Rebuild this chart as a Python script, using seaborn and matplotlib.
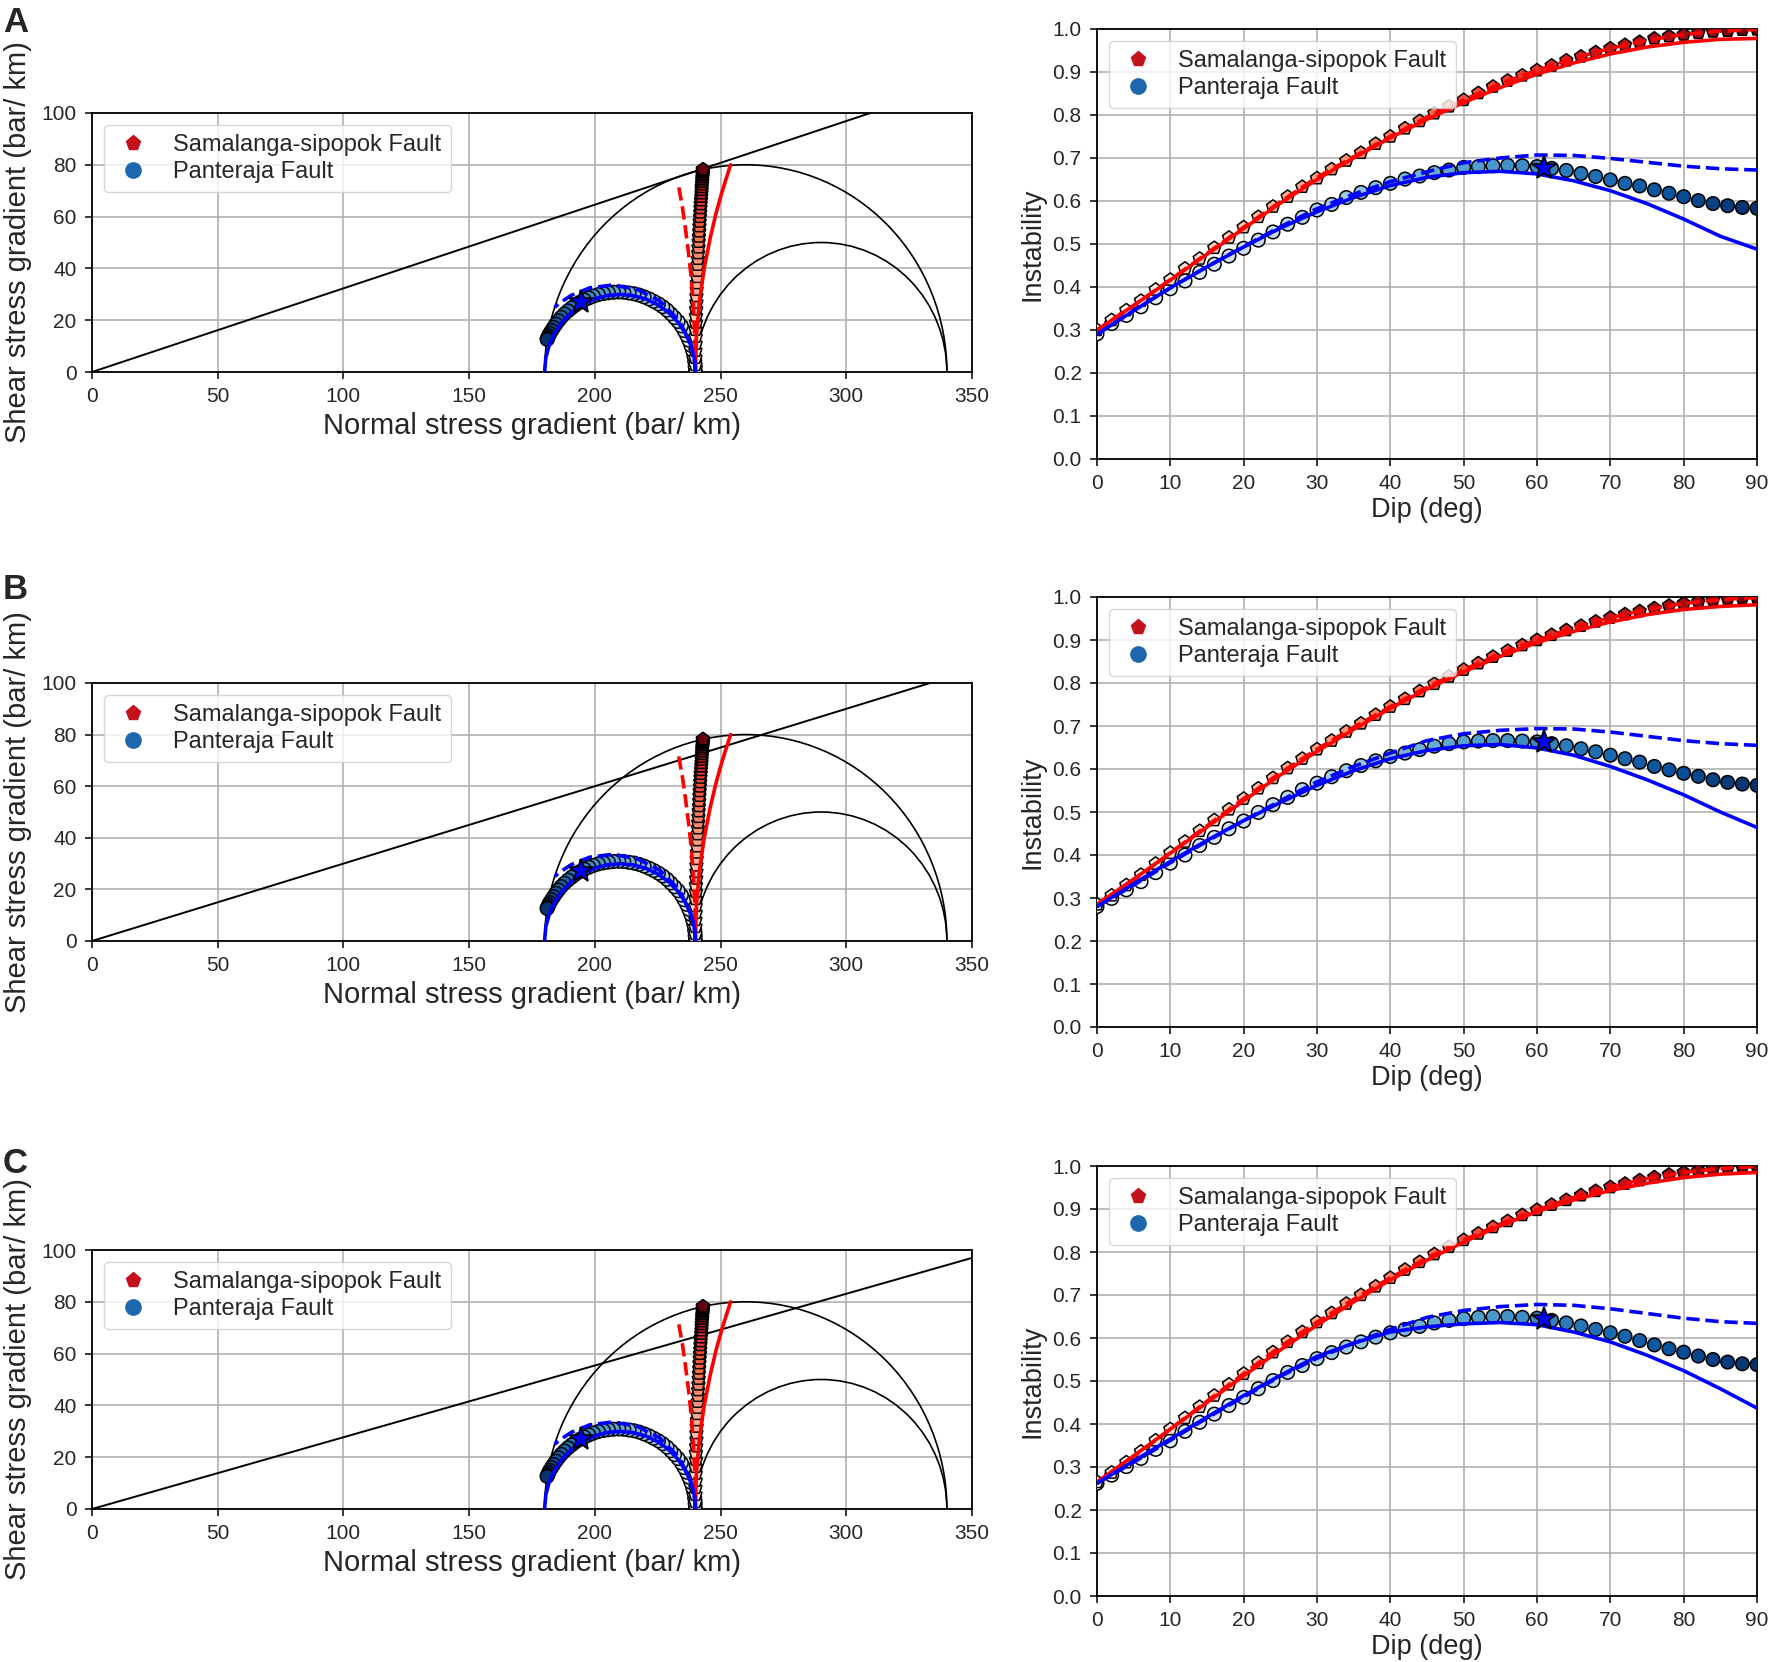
import numpy as np
import matplotlib
matplotlib.use("Agg")
import matplotlib.pyplot as plt
from matplotlib.patches import Arc
from matplotlib.lines import Line2D
import seaborn as sns

sns.set_style("ticks")
plt.rcParams['font.family'] = ['Liberation Sans', 'DejaVu Sans']

# dip angles of the marker series (deg) and of the curves
dip = [0, 2, 4, 6, 8, 10, 12, 14, 16, 18, 20, 22, 24, 26, 28, 30, 32, 34, 36, 38, 40, 42, 44,
       46, 48, 50, 52, 54, 56, 58, 60, 62, 64, 66, 68, 70, 72, 74, 76, 78, 80, 82, 84, 86, 88, 90]
dip_line = [0, 5, 10, 15, 20, 25, 30, 35, 40, 45, 50, 55, 60, 65, 70, 75, 80, 85, 90]

# principal stress gradients (bar/km) -> Mohr circles
s1, s2, s3 = 340, 240, 180
# slope of the failure envelope for panels A, B, C
env_slope = [0.323, 0.300, 0.277]

# Mohr diagram positions (same for all panels)
sama_sigma = [240.0, 240.0, 240.0, 240.0, 240.1, 240.1, 240.1, 240.2, 240.2, 240.3, 240.4, 240.4,
              240.5, 240.6, 240.7, 240.8, 240.9, 241.0, 241.1, 241.2, 241.3, 241.4, 241.5, 241.6,
              241.7, 241.8, 241.9, 242.0, 242.1, 242.2, 242.3, 242.4, 242.5, 242.5, 242.6, 242.7,
              242.7, 242.8, 242.9, 242.9, 242.9, 243.0, 243.0, 243.0, 243.0, 243.0]
sama_tau = [0.0, 2.7, 5.5, 8.2, 10.9, 13.6, 16.3, 19.0, 21.6, 24.2, 26.8, 29.3, 31.8, 34.3, 36.7,
            39.1, 41.4, 43.7, 45.9, 48.1, 50.3, 52.3, 54.3, 56.3, 58.1, 59.9, 61.6, 63.3, 64.8,
            66.3, 67.7, 69.0, 70.3, 71.4, 72.5, 73.5, 74.4, 75.2, 75.9, 76.5, 77.0, 77.5, 77.8,
            78.0, 78.2, 78.2]
pant_sigma = [240.0, 239.9, 239.7, 239.4, 238.9, 238.2, 237.4, 236.5, 235.5, 234.4, 233.1, 231.7,
              230.2, 228.7, 227.0, 225.3, 223.4, 221.6, 219.6, 217.6, 215.6, 213.6, 211.5, 209.5,
              207.4, 205.4, 203.4, 201.4, 199.4, 197.6, 195.8, 194.0, 192.3, 190.8, 189.3, 187.9,
              186.6, 185.5, 184.5, 183.6, 182.8, 182.1, 181.6, 181.3, 181.1, 181.0]
pant_tau = [0.0, 2.1, 4.2, 6.3, 8.3, 10.3, 12.3, 14.2, 16.0, 17.8, 19.5, 21.0, 22.5, 23.9, 25.2,
            26.3, 27.3, 28.2, 29.0, 29.7, 30.2, 30.5, 30.8, 30.9, 30.8, 30.6, 30.3, 29.9, 29.3,
            28.6, 27.8, 26.9, 25.9, 24.8, 23.6, 22.4, 21.1, 19.8, 18.5, 17.2, 16.0, 14.9, 14.0,
            13.2, 12.8, 12.6]

# Mohr paths of the strike variants
red_solid_sigma = [240.0, 240.4, 241.6, 243.5, 245.8, 248.2, 250.5, 252.4, 253.6, 254.0]
red_solid_tau = [0.0, 13.9, 27.4, 40.0, 51.4, 61.3, 69.3, 75.2, 78.8, 80.0]
red_dash_sigma = [240.0, 239.8, 239.2, 238.3, 237.1, 235.9, 234.8, 233.8, 233.2, 233.0]
red_dash_tau = [0.0, 12.8, 25.1, 36.8, 47.2, 56.3, 63.7, 69.1, 72.4, 73.5]
blue_solid_sigma = [240.0, 239.5, 238.2, 236.0, 233.0, 229.3, 225.0, 220.3, 215.2, 210.0,
                    204.8, 199.7, 195.0, 190.7, 187.0, 184.0, 181.8, 180.5, 180.0]
blue_solid_tau = [0.0, 5.5, 10.2, 15.0, 19.3, 23.0, 26.0, 28.2, 29.5, 30.0, 29.5, 28.2, 26.0,
                  23.0, 19.3, 15.0, 10.2, 5.5, 0.0]
blue_dash_sigma = [240.0, 239.6, 238.3, 233.5, 226.0, 216.9, 207.1, 198.0, 190.6, 185.7, 184.4, 184.0]
blue_dash_tau = [0.0, 5.5, 10.5, 19.9, 27.3, 31.9, 33.6, 32.5, 29.6, 26.4, 25.3, 25.0]

# optimal Panteraja plane (star)
star_dip = 61
star_sigma, star_tau = 194.6, 27.2

# instability, panel A
inst_sama_A = [0.300, 0.323, 0.346, 0.368, 0.394, 0.417, 0.443, 0.466, 0.491, 0.515, 0.539, 0.563,
               0.587, 0.610, 0.633, 0.653, 0.674, 0.694, 0.712, 0.733, 0.750, 0.769, 0.786, 0.804,
               0.820, 0.835, 0.851, 0.866, 0.880, 0.892, 0.904, 0.915, 0.927, 0.936, 0.946, 0.955,
               0.963, 0.970, 0.978, 0.983, 0.987, 0.991, 0.994, 0.996, 0.998, 0.999]
inst_pant_A = [0.291, 0.315, 0.334, 0.354, 0.375, 0.396, 0.414, 0.434, 0.453, 0.472, 0.490, 0.509,
               0.528, 0.546, 0.562, 0.579, 0.592, 0.608, 0.620, 0.631, 0.641, 0.651, 0.658, 0.666,
               0.672, 0.678, 0.680, 0.682, 0.683, 0.682, 0.680, 0.676, 0.671, 0.664, 0.657, 0.649,
               0.641, 0.635, 0.626, 0.618, 0.610, 0.601, 0.594, 0.589, 0.585, 0.583]
red_solid_A = [0.300, 0.357, 0.416, 0.476, 0.536, 0.595, 0.650, 0.700, 0.747, 0.790, 0.829, 0.864,
               0.895, 0.921, 0.942, 0.958, 0.969, 0.976, 0.978]
red_dash_A = [0.300, 0.357, 0.417, 0.478, 0.539, 0.598, 0.655, 0.703, 0.750, 0.795, 0.835, 0.873,
              0.904, 0.932, 0.955, 0.974, 0.987, 0.995, 0.999]
blue_solid_A = [0.290, 0.345, 0.398, 0.447, 0.493, 0.537, 0.575, 0.608, 0.636, 0.655, 0.666, 0.669,
                0.663, 0.647, 0.624, 0.594, 0.558, 0.518, 0.488]
blue_dash_A = [0.290, 0.345, 0.398, 0.447, 0.494, 0.540, 0.582, 0.616, 0.645, 0.668, 0.689, 0.700,
               0.707, 0.706, 0.699, 0.690, 0.681, 0.675, 0.672]

# instability, panel B
inst_sama_B = [0.285, 0.306, 0.330, 0.354, 0.380, 0.405, 0.431, 0.456, 0.481, 0.506, 0.531, 0.555,
               0.579, 0.602, 0.624, 0.646, 0.666, 0.687, 0.706, 0.726, 0.745, 0.763, 0.781, 0.798,
               0.815, 0.831, 0.846, 0.861, 0.875, 0.888, 0.900, 0.912, 0.923, 0.933, 0.943, 0.952,
               0.960, 0.967, 0.974, 0.980, 0.985, 0.989, 0.993, 0.996, 0.998, 0.999]
inst_pant_B = [0.280, 0.299, 0.319, 0.338, 0.359, 0.381, 0.400, 0.422, 0.441, 0.461, 0.479, 0.499,
               0.517, 0.534, 0.552, 0.567, 0.582, 0.596, 0.608, 0.619, 0.629, 0.637, 0.645, 0.653,
               0.659, 0.663, 0.665, 0.666, 0.666, 0.665, 0.663, 0.659, 0.654, 0.647, 0.640, 0.632,
               0.624, 0.616, 0.606, 0.598, 0.590, 0.583, 0.575, 0.569, 0.565, 0.562]
red_solid_B = [0.285, 0.344, 0.404, 0.465, 0.526, 0.586, 0.641, 0.692, 0.741, 0.786, 0.826, 0.862,
               0.894, 0.920, 0.942, 0.959, 0.971, 0.978, 0.982]
red_dash_B = [0.285, 0.342, 0.405, 0.468, 0.531, 0.591, 0.646, 0.697, 0.745, 0.790, 0.831, 0.868,
              0.900, 0.928, 0.952, 0.971, 0.985, 0.994, 0.999]
blue_solid_B = [0.280, 0.333, 0.385, 0.434, 0.480, 0.522, 0.562, 0.596, 0.624, 0.643, 0.654, 0.657,
                0.649, 0.632, 0.606, 0.575, 0.540, 0.500, 0.464]
blue_dash_B = [0.280, 0.330, 0.382, 0.432, 0.480, 0.526, 0.570, 0.606, 0.637, 0.666, 0.682, 0.690,
               0.694, 0.693, 0.686, 0.676, 0.666, 0.659, 0.655]

# instability, panel C
inst_sama_C = [0.265, 0.287, 0.311, 0.336, 0.362, 0.388, 0.414, 0.440, 0.466, 0.492, 0.517, 0.542,
               0.567, 0.591, 0.614, 0.637, 0.658, 0.680, 0.700, 0.720, 0.740, 0.759, 0.777, 0.795,
               0.812, 0.828, 0.843, 0.858, 0.872, 0.886, 0.898, 0.910, 0.921, 0.932, 0.942, 0.951,
               0.959, 0.967, 0.974, 0.980, 0.985, 0.989, 0.993, 0.996, 0.998, 0.999]
inst_pant_C = [0.262, 0.281, 0.301, 0.320, 0.341, 0.361, 0.383, 0.404, 0.423, 0.443, 0.462, 0.482,
               0.501, 0.520, 0.536, 0.552, 0.566, 0.579, 0.591, 0.602, 0.612, 0.620, 0.627, 0.635,
               0.641, 0.645, 0.648, 0.650, 0.650, 0.648, 0.646, 0.641, 0.635, 0.628, 0.620, 0.612,
               0.604, 0.594, 0.584, 0.575, 0.567, 0.558, 0.550, 0.544, 0.540, 0.538]
red_solid_C = [0.265, 0.326, 0.388, 0.450, 0.512, 0.572, 0.630, 0.684, 0.735, 0.781, 0.823, 0.861,
               0.894, 0.921, 0.943, 0.960, 0.973, 0.981, 0.985]
red_dash_C = [0.265, 0.324, 0.388, 0.453, 0.517, 0.580, 0.637, 0.690, 0.740, 0.786, 0.828, 0.865,
              0.898, 0.927, 0.951, 0.971, 0.985, 0.994, 0.999]
blue_solid_C = [0.262, 0.314, 0.365, 0.416, 0.466, 0.513, 0.557, 0.588, 0.614, 0.626, 0.633, 0.636,
                0.631, 0.614, 0.591, 0.560, 0.524, 0.482, 0.437]
blue_dash_C = [0.262, 0.311, 0.362, 0.414, 0.463, 0.511, 0.553, 0.588, 0.620, 0.648, 0.664, 0.673,
               0.678, 0.676, 0.668, 0.657, 0.646, 0.638, 0.634]

star_inst = [0.676, 0.662, 0.644]

panels = [
    ("A", inst_sama_A, inst_pant_A, red_solid_A, red_dash_A, blue_solid_A, blue_dash_A),
    ("B", inst_sama_B, inst_pant_B, red_solid_B, red_dash_B, blue_solid_B, blue_dash_B),
    ("C", inst_sama_C, inst_pant_C, red_solid_C, red_dash_C, blue_solid_C, blue_dash_C),
]

W, H = 1772, 1662
fig = plt.figure(figsize=(W / 100, H / 100), dpi=100)

# pixel boxes (left, top, right, bottom)
left_boxes = [(92, 113, 972, 372), (92, 683, 972, 941), (92, 1250, 972, 1509)]
right_boxes = [(1097, 29, 1757, 459), (1097, 597, 1757, 1027), (1097, 1166, 1757, 1596)]
letter_y = [6, 573, 1147]


def px_axes(box):
    l, t, r, b = box
    return fig.add_axes([l / W, 1 - b / H, (r - l) / W, (b - t) / H])


def style_axes(ax):
    ax.grid(True, color="#b0b0b0", lw=1.2)
    ax.set_axisbelow(True)
    for sp in ax.spines.values():
        sp.set_color("black")
        sp.set_linewidth(1.3)
    ax.tick_params(labelsize=15, length=5, width=1.1, pad=6, color="black")


sc_kw = dict(s=95, edgecolor="black", linewidth=1.1, legend=False, zorder=3)
legend_handles = [
    Line2D([], [], marker="p", ls="", color="#c4121c", markersize=11),
    Line2D([], [], marker="o", ls="", color="#1d66b0", markersize=11),
]
legend_labels = ["Samalanga-sipopok Fault", "Panteraja Fault"]
leg_kw = dict(loc="upper left", fontsize=17, handlelength=1.7, handletextpad=0.85,
              borderpad=0.4, labelspacing=0.2)

for i, (letter, isama, ipant, rs, rd, bs, bd) in enumerate(panels):
    # ---- Mohr diagram ----
    ax = px_axes(left_boxes[i])
    style_axes(ax)
    for c, r in [((s1 + s3) / 2, (s1 - s3) / 2), ((s1 + s2) / 2, (s1 - s2) / 2),
                 ((s2 + s3) / 2, (s2 - s3) / 2)]:
        ax.add_patch(Arc((c, 0), 2 * r, 2 * r, theta1=0, theta2=180, color="black", lw=1.2, zorder=2))
    ax.axline((0, 0), slope=env_slope[i], color="black", lw=1.4, zorder=2)

    sns.scatterplot(x=pant_sigma, y=pant_tau, hue=dip, palette="Blues", hue_norm=(0, 90),
                    marker="o", ax=ax, **sc_kw)
    sns.scatterplot(x=sama_sigma, y=sama_tau, hue=dip, palette="Reds", hue_norm=(0, 90),
                    marker="p", ax=ax, **sc_kw)
    sns.lineplot(x=red_solid_sigma, y=red_solid_tau, sort=False, estimator=None,
                 color="red", lw=2.6, ax=ax, zorder=4)
    sns.lineplot(x=red_dash_sigma, y=red_dash_tau, sort=False, estimator=None,
                 color="red", lw=2.6, ls="--", ax=ax, zorder=4)
    sns.lineplot(x=blue_solid_sigma, y=blue_solid_tau, sort=False, estimator=None,
                 color="blue", lw=2.6, ax=ax, zorder=4)
    sns.lineplot(x=blue_dash_sigma, y=blue_dash_tau, sort=False, estimator=None,
                 color="blue", lw=2.6, ls="--", ax=ax, zorder=4)
    ax.plot(star_sigma, star_tau, marker="*", ms=18, mfc="blue", mec="black", mew=1.2, zorder=5)

    ax.set_xlim(0, 350)
    ax.set_ylim(0, 100)
    ax.set_xticks(range(0, 351, 50))
    ax.set_yticks(range(0, 101, 20))
    ax.set_xlabel("Normal stress gradient (bar/ km)", fontsize=21, labelpad=4)
    ax.set_ylabel("Shear stress gradient (bar/ km)", fontsize=21, labelpad=7)
    ax.legend(legend_handles, legend_labels, **leg_kw)

    # ---- Instability vs dip ----
    ax2 = px_axes(right_boxes[i])
    style_axes(ax2)
    sns.scatterplot(x=dip, y=ipant, hue=dip, palette="Blues", hue_norm=(0, 90),
                    marker="o", ax=ax2, **sc_kw)
    sns.scatterplot(x=dip, y=isama, hue=dip, palette="Reds", hue_norm=(0, 90),
                    marker="p", ax=ax2, **sc_kw)
    sns.lineplot(x=dip_line, y=rs, color="red", lw=2.6, ax=ax2, zorder=4)
    sns.lineplot(x=dip_line, y=rd, color="red", lw=2.6, ls="--", ax=ax2, zorder=4)
    sns.lineplot(x=dip_line, y=bs, color="blue", lw=2.6, ax=ax2, zorder=4)
    sns.lineplot(x=dip_line, y=bd, color="blue", lw=2.6, ls="--", ax=ax2, zorder=4)
    ax2.plot(star_dip, star_inst[i], marker="*", ms=18, mfc="blue", mec="black", mew=1.2, zorder=5)

    ax2.set_xlim(0, 90)
    ax2.set_ylim(0, 1.0)
    ax2.set_xticks(range(0, 91, 10))
    ax2.set_yticks([k / 10 for k in range(11)])
    ax2.set_yticklabels([f"{k / 10:.1f}" for k in range(11)])
    ax2.set_xlabel("Dip (deg)", fontsize=19.5, labelpad=3)
    ax2.set_ylabel("Instability", fontsize=19.5, labelpad=5)
    ax2.legend(legend_handles, legend_labels, **leg_kw)

    fig.text(3 / W, 1 - letter_y[i] / H, letter, fontsize=25, fontweight="bold", va="top", ha="left")

fig.savefig("out.png", dpi=100)
